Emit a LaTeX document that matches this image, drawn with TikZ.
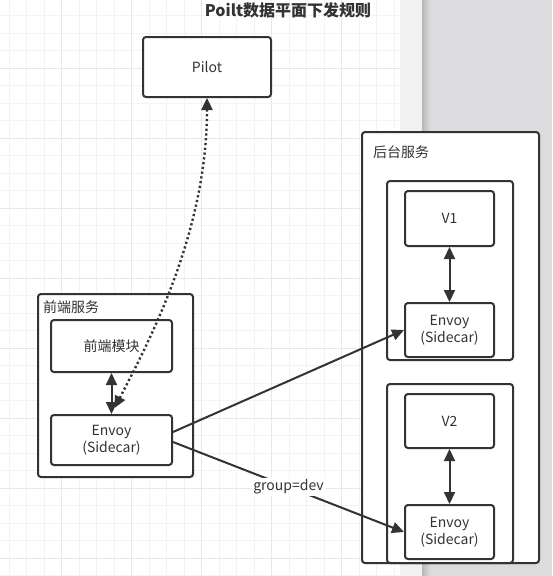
\documentclass[tikz,border=0pt]{standalone}
\usepackage{fontspec}
\setmainfont{Noto Sans CJK SC}
\usetikzlibrary{arrows.meta}

\definecolor{ink}{HTML}{333333}
\definecolor{gridminor}{HTML}{F3F3F3}
\definecolor{gridmajor}{HTML}{E8E8E8}
\definecolor{strip}{HTML}{F1F1F1}
\definecolor{paper}{HTML}{DCDCDF}

\begin{document}
\begin{tikzpicture}[x=1pt, y=-1pt,
    >={Triangle[length=12pt,width=11pt]},
    box/.style={draw=ink, line width=2pt, rounded corners=3pt, fill=white,
        text=ink, align=center, inner sep=0pt, font=\fontsize{14}{17.5}\selectfont},
    grouptitle/.style={text=ink, inner sep=0pt, font=\fontsize{14}{17}\selectfont},
    link/.style={draw=ink, line width=2pt},
    dots/.style={line width=2.4pt, dash pattern=on 2.2pt off 2.6pt},
    tag/.style={fill=white, text=ink, inner sep=1.5pt, font=\fontsize{14}{17}\selectfont}]

    % constants
    \def\gap{17.5}

    % background
    \useasboundingbox (0,0) rectangle (552,576);
    \fill[white] (0,0) rectangle (400,576);
    \foreach \i in {0,...,22}
        \draw[gridminor, line width=1pt] (9.3+\gap*\i,0) -- ++(0,576);
    \foreach \j in {0,...,32}
        \draw[gridminor, line width=1pt] (0,15.7+\gap*\j) -- (400,15.7+\gap*\j);
    \foreach \i in {3,7,...,19}
        \draw[gridmajor, line width=1pt] (9.3+\gap*\i,0) -- ++(0,576);
    \foreach \j in {3,7,...,31}
        \draw[gridmajor, line width=1pt] (0,15.7+\gap*\j) -- (400,15.7+\gap*\j);
    \fill[strip] (400,0) rectangle (422,576);
    \fill[paper] (422,0) rectangle (552,576);
    \shade[left color=black!28, right color=paper] (422,0) rectangle (430,576);

    % title
    \node[text=ink, font=\fontsize{16}{18}\selectfont\bfseries] (title) at (288,10) {Poilt数据平面下发规则};

    % Pilot
    \node[box, minimum width=128pt, minimum height=60pt] (pilot) at (207,67) {Pilot};

    % front service
    \node[box, minimum width=155pt, minimum height=183pt] (front) at (115.5,385.5) {};
    \node[grouptitle, anchor=west] (frontTitle) at (43,307) {前端服务};
    \node[box, minimum width=121pt, minimum height=52pt] (frontMod) at (111.5,346) {前端模块};
    \node[box, minimum width=121pt, minimum height=50pt] (frontEnvoy) at (111.5,440) {Envoy\\(Sidecar)};

    % back service
    \node[box, minimum width=177pt, minimum height=431pt] (back) at (450.5,347.5) {};
    \node[grouptitle, anchor=west] (backTitle) at (373,152) {后台服务};

    \node[box, minimum width=126pt, minimum height=179pt] (podA) at (450,270.5) {};
    \node[box, minimum width=89pt, minimum height=55pt] (v1) at (449.5,218.5) {V1};
    \node[box, minimum width=89pt, minimum height=54pt] (envoyA) at (449.5,330) {Envoy\\(Sidecar)};

    \node[box, minimum width=126pt, minimum height=179pt] (podB) at (450,473.5) {};
    \node[box, minimum width=89pt, minimum height=54pt] (v2) at (449.5,421) {V2};
    \node[box, minimum width=89pt, minimum height=54pt] (envoyB) at (449.5,532) {Envoy\\(Sidecar)};

    % links
    \draw[link, <->] (frontMod) -- (frontEnvoy);
    \draw[link, <->] (v1) -- (envoyA);
    \draw[link, <->] (v2) -- (envoyB);
    \draw[link, ->] ([yshift=8pt]frontEnvoy.east) -- (envoyA.west);
    \draw[link, ->] ([yshift=-2pt]frontEnvoy.east) -- node[tag] {group=dev} (envoyB.west);

    % rules from Pilot
    \draw[link, dots, <->] (pilot.south) .. controls +(0,133) and +(36,-69) .. ([xshift=3pt,yshift=6pt]frontEnvoy.north);

\end{tikzpicture}
\end{document}
